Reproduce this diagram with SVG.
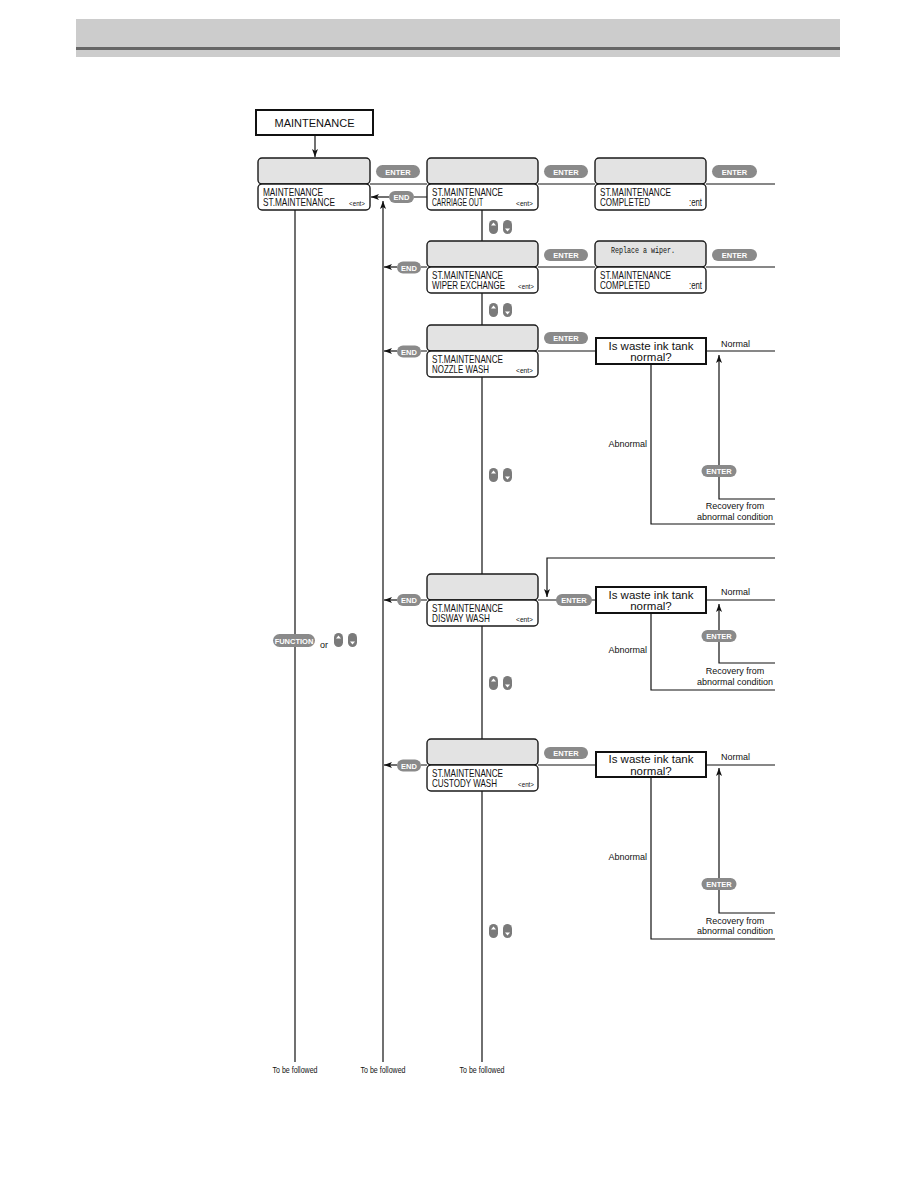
<svg xmlns="http://www.w3.org/2000/svg" xmlns:xlink="http://www.w3.org/1999/xlink" width="918" height="1188" viewBox="0 0 918 1188">
<defs>
<style>
.lcdt{fill:#e3e3e3;stroke:#1a1a1a;stroke-width:1.4}
.lcdb{fill:#fff;stroke:#1a1a1a;stroke-width:1.4}
.lt{font-family:"Liberation Sans",Arial,sans-serif;font-size:11px;fill:#111}
.ent{font-family:"Liberation Sans",Arial,sans-serif;font-size:8px;fill:#111;text-anchor:end}
.pill{fill:#8a8a8a}
.pt{font-family:"Liberation Sans",Arial,sans-serif;font-weight:bold;font-size:7.5px;fill:#fff;text-anchor:middle}
.ln{stroke:#111;stroke-width:1.2;fill:none}
.dec{fill:#fff;stroke:#111;stroke-width:2}
.dt{font-family:"Liberation Sans",Arial,sans-serif;font-size:11.5px;fill:#111;text-anchor:middle}
.sm{font-family:"Liberation Sans",Arial,sans-serif;font-size:9px;fill:#111}
.mono{font-family:"Liberation Mono",monospace;font-size:9.5px;fill:#111}
</style>
<marker id="ah" markerWidth="8" markerHeight="6" refX="8" refY="3" orient="auto" markerUnits="userSpaceOnUse">
<path d="M0,0 L8,3 L0,6 L2,3 z" fill="#111"/>
</marker>
<g id="ud">
<rect x="0" y="0" width="9" height="14" rx="4.5" fill="#7a7a7a"/>
<path d="M4.5,2.5 L7,5.5 L2,5.5 z" fill="#fff"/>
<rect x="14" y="0" width="9" height="14" rx="4.5" fill="#7a7a7a"/>
<path d="M18.5,11.5 L21,8.5 L16,8.5 z" fill="#fff"/>
</g>
</defs>
<rect width="918" height="1188" fill="#fff"/>
<g id="header">
<rect x="76" y="19" width="764" height="38" fill="#cccccc"/>
<rect x="76" y="47" width="764" height="3" fill="#666"/>
</g>

<g id="connectors">
<path class="ln" d="M315,136 V157" marker-end="url(#ah)"/>
<path class="ln" d="M295,210 V1062"/>
<path class="ln" d="M383,1062 V201" marker-end="url(#ah)"/>
<path class="ln" d="M482,210 V241 M482,293 V325 M482,377 V574 M482,626 V739 M482,791 V1062"/>
<path class="ln" d="M370,184 H427 M538,184 H595 M706,184 H775 M427,197 H414"/>
<path class="ln" d="M389,197 H371" marker-end="url(#ah)"/>
<path class="ln" d="M538,267 H595 M706,267 H775 M427,267 H421"/>
<path class="ln" d="M397,267 H384" marker-end="url(#ah)"/>
<path class="ln" d="M538,351 H596 M706,351 H775 M427,351 H421 M651,364 V524 H775"/>
<path class="ln" d="M397,351 H384" marker-end="url(#ah)"/>
<path class="ln" d="M775,499 H719 V355" marker-end="url(#ah)"/>
<path class="ln" d="M538,600 H596 M706,600 H775 M427,600 H421 M651,613 V690 H775"/>
<path class="ln" d="M397,600 H384" marker-end="url(#ah)"/>
<path class="ln" d="M775,558 H547 V597" marker-end="url(#ah)"/>
<path class="ln" d="M775,663 H719 V604" marker-end="url(#ah)"/>
<path class="ln" d="M538,765 H596 M706,765 H775 M427,765 H421 M651,777 V939 H775"/>
<path class="ln" d="M397,765 H384" marker-end="url(#ah)"/>
<path class="ln" d="M775,913 H719 V768" marker-end="url(#ah)"/>
</g>

<g id="maintenance">
<rect x="256" y="110" width="117" height="25" fill="#fff" stroke="#111" stroke-width="2"/>
<text class="lt" x="314.5" y="127" text-anchor="middle" font-size="12.5">MAINTENANCE</text>
</g>

<g id="lcd-maintenance">
<rect class="lcdt" x="258" y="158" width="112" height="26" rx="4"/>
<rect class="lcdb" x="258" y="184" width="112" height="26" rx="4"/>
<text class="lt" x="263" y="195.5" textLength="60" lengthAdjust="spacingAndGlyphs">MAINTENANCE</text>
<text class="lt" x="263" y="206" textLength="72" lengthAdjust="spacingAndGlyphs">ST.MAINTENANCE</text>
<text class="ent" x="365" y="206" textLength="16" lengthAdjust="spacingAndGlyphs">&lt;ent&gt;</text>
</g>

<g id="lcd-carriage">
<rect class="lcdt" x="427" y="158" width="111" height="26" rx="4"/>
<rect class="lcdb" x="427" y="184" width="111" height="26" rx="4"/>
<text class="lt" x="432" y="195.5" textLength="71" lengthAdjust="spacingAndGlyphs">ST.MAINTENANCE</text>
<text class="lt" x="432" y="206" textLength="51" lengthAdjust="spacingAndGlyphs">CARRIAGE OUT</text>
<text class="ent" x="533" y="206" textLength="17" lengthAdjust="spacingAndGlyphs">&lt;ent&gt;</text>
</g>

<g id="lcd-completed1">
<rect class="lcdt" x="595" y="158" width="111" height="26" rx="4"/>
<rect class="lcdb" x="595" y="184" width="111" height="26" rx="4"/>
<text class="lt" x="600" y="195.5" textLength="71" lengthAdjust="spacingAndGlyphs">ST.MAINTENANCE</text>
<text class="lt" x="600" y="206" textLength="50" lengthAdjust="spacingAndGlyphs">COMPLETED</text>
<text class="lt" x="702" y="206" text-anchor="end" textLength="13" lengthAdjust="spacingAndGlyphs">:ent</text>
</g>

<g id="lcd-wiper">
<rect class="lcdt" x="427" y="241" width="111" height="26" rx="4"/>
<rect class="lcdb" x="427" y="267" width="111" height="26" rx="4"/>
<text class="lt" x="432" y="278.5" textLength="71" lengthAdjust="spacingAndGlyphs">ST.MAINTENANCE</text>
<text class="lt" x="432" y="289" textLength="73" lengthAdjust="spacingAndGlyphs">WIPER EXCHANGE</text>
<text class="ent" x="534" y="289" textLength="16" lengthAdjust="spacingAndGlyphs">&lt;ent&gt;</text>
</g>

<g id="lcd-completed2">
<rect class="lcdt" x="595" y="241" width="111" height="26" rx="4"/>
<rect class="lcdb" x="595" y="267" width="111" height="26" rx="4"/>
<text class="mono" x="611" y="253" textLength="64" lengthAdjust="spacingAndGlyphs">Replace a wiper.</text>
<text class="lt" x="600" y="278.5" textLength="71" lengthAdjust="spacingAndGlyphs">ST.MAINTENANCE</text>
<text class="lt" x="600" y="289" textLength="50" lengthAdjust="spacingAndGlyphs">COMPLETED</text>
<text class="lt" x="702" y="289" text-anchor="end" textLength="13" lengthAdjust="spacingAndGlyphs">:ent</text>
</g>

<g id="lcd-nozzle">
<rect class="lcdt" x="427" y="325" width="111" height="26" rx="4"/>
<rect class="lcdb" x="427" y="351" width="111" height="26" rx="4"/>
<text class="lt" x="432" y="362.5" textLength="71" lengthAdjust="spacingAndGlyphs">ST.MAINTENANCE</text>
<text class="lt" x="432" y="373" textLength="57" lengthAdjust="spacingAndGlyphs">NOZZLE WASH</text>
<text class="ent" x="533" y="373" textLength="17" lengthAdjust="spacingAndGlyphs">&lt;ent&gt;</text>
</g>

<g id="lcd-disway">
<rect class="lcdt" x="427" y="574" width="111" height="26" rx="4"/>
<rect class="lcdb" x="427" y="600" width="111" height="26" rx="4"/>
<text class="lt" x="432" y="611.5" textLength="71" lengthAdjust="spacingAndGlyphs">ST.MAINTENANCE</text>
<text class="lt" x="432" y="622" textLength="58" lengthAdjust="spacingAndGlyphs">DISWAY WASH</text>
<text class="ent" x="533" y="622" textLength="17" lengthAdjust="spacingAndGlyphs">&lt;ent&gt;</text>
</g>

<g id="lcd-custody">
<rect class="lcdt" x="427" y="739" width="111" height="26" rx="4"/>
<rect class="lcdb" x="427" y="765" width="111" height="26" rx="4"/>
<text class="lt" x="432" y="776.5" textLength="71" lengthAdjust="spacingAndGlyphs">ST.MAINTENANCE</text>
<text class="lt" x="432" y="787" textLength="65" lengthAdjust="spacingAndGlyphs">CUSTODY WASH</text>
<text class="ent" x="534" y="787" textLength="16" lengthAdjust="spacingAndGlyphs">&lt;ent&gt;</text>
</g>

<g id="decision-nozzle">
<rect class="dec" x="596" y="338" width="110" height="26"/>
<text class="dt" x="651" y="349.5">Is waste ink tank</text>
<text class="dt" x="651" y="361">normal?</text>
</g>
<g id="decision-disway">
<rect class="dec" x="596" y="587" width="110" height="26"/>
<text class="dt" x="651" y="598.5">Is waste ink tank</text>
<text class="dt" x="651" y="610">normal?</text>
</g>
<g id="decision-custody">
<rect class="dec" x="596" y="752" width="110" height="25"/>
<text class="dt" x="651" y="763">Is waste ink tank</text>
<text class="dt" x="651" y="774.5">normal?</text>
</g>

<g id="buttons">
<rect class="pill" x="376" y="165" width="44" height="13" rx="6.5"/><text class="pt" x="398" y="174.5">ENTER</text>
<rect class="pill" x="544" y="165" width="44" height="13" rx="6.5"/><text class="pt" x="566" y="174.5">ENTER</text>
<rect class="pill" x="712" y="165" width="45" height="13" rx="6.5"/><text class="pt" x="734.5" y="174.5">ENTER</text>
<rect class="pill" x="389" y="191" width="25" height="12" rx="6"/><text class="pt" x="401.5" y="200">END</text>
<rect class="pill" x="544" y="249" width="44" height="12" rx="6"/><text class="pt" x="566" y="258">ENTER</text>
<rect class="pill" x="712" y="249" width="45" height="12" rx="6"/><text class="pt" x="734.5" y="258">ENTER</text>
<rect class="pill" x="397" y="261.5" width="24" height="12" rx="6"/><text class="pt" x="409" y="270.5">END</text>
<rect class="pill" x="544" y="332" width="44" height="12" rx="6"/><text class="pt" x="566" y="341">ENTER</text>
<rect class="pill" x="397" y="345.5" width="24" height="12" rx="6"/><text class="pt" x="409" y="354.5">END</text>
<rect class="pill" x="701.5" y="465" width="35" height="12" rx="6"/><text class="pt" x="719" y="474">ENTER</text>
<rect class="pill" x="556" y="594" width="36" height="12" rx="6"/><text class="pt" x="574" y="603">ENTER</text>
<rect class="pill" x="397" y="594" width="24" height="12" rx="6"/><text class="pt" x="409" y="603">END</text>
<rect class="pill" x="701.5" y="630" width="35" height="12" rx="6"/><text class="pt" x="719" y="639">ENTER</text>
<rect class="pill" x="544" y="747" width="44" height="12" rx="6"/><text class="pt" x="566" y="756">ENTER</text>
<rect class="pill" x="397" y="759.5" width="24" height="12" rx="6"/><text class="pt" x="409" y="768.5">END</text>
<rect class="pill" x="701.5" y="878" width="35" height="12" rx="6"/><text class="pt" x="719" y="887">ENTER</text>
<rect class="pill" x="273" y="634" width="42" height="13" rx="6.5"/><text class="pt" x="294" y="643.5" font-size="7">FUNCTION</text>
</g>

<g id="updown">
<use xlink:href="#ud" x="489" y="220"/>
<use xlink:href="#ud" x="489" y="303"/>
<use xlink:href="#ud" x="489" y="468"/>
<use xlink:href="#ud" x="489" y="676"/>
<use xlink:href="#ud" x="489" y="924"/>
<use xlink:href="#ud" x="334" y="633"/>
</g>

<g id="labels">
<text class="sm" x="320" y="648">or</text>
<text class="sm" x="721" y="347">Normal</text>
<text class="sm" x="647" y="447" text-anchor="end">Abnormal</text>
<text class="sm" x="735" y="509" text-anchor="middle">Recovery from</text>
<text class="sm" x="735" y="519.5" text-anchor="middle">abnormal condition</text>
<text class="sm" x="721" y="595">Normal</text>
<text class="sm" x="647" y="653" text-anchor="end">Abnormal</text>
<text class="sm" x="735" y="674" text-anchor="middle">Recovery from</text>
<text class="sm" x="735" y="684.5" text-anchor="middle">abnormal condition</text>
<text class="sm" x="721" y="760">Normal</text>
<text class="sm" x="647" y="860" text-anchor="end">Abnormal</text>
<text class="sm" x="735" y="923.5" text-anchor="middle">Recovery from</text>
<text class="sm" x="735" y="934" text-anchor="middle">abnormal condition</text>
<text class="sm" x="295" y="1073" text-anchor="middle" font-size="8.5" textLength="45" lengthAdjust="spacingAndGlyphs">To be followed</text>
<text class="sm" x="383" y="1073" text-anchor="middle" font-size="8.5" textLength="45" lengthAdjust="spacingAndGlyphs">To be followed</text>
<text class="sm" x="482" y="1073" text-anchor="middle" font-size="8.5" textLength="45" lengthAdjust="spacingAndGlyphs">To be followed</text>
</g>
</svg>
